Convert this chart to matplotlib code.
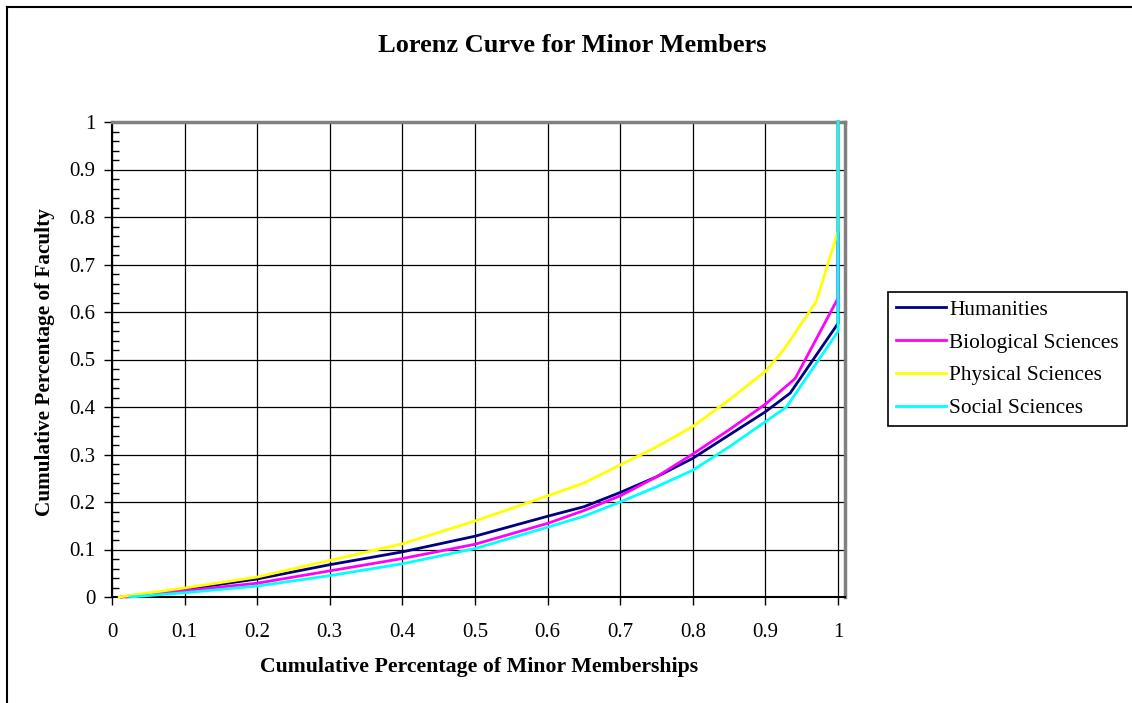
import matplotlib
matplotlib.use("Agg")
from matplotlib import pyplot as plt
from matplotlib.lines import Line2D
from matplotlib.ticker import MultipleLocator

# Dados (x = % acumulada de memberships, y = % acumulada de faculty)
hum_x = [0.013, 0.1, 0.2, 0.3, 0.4, 0.5, 0.6, 0.65, 0.7, 0.75, 0.8, 0.85, 0.9, 0.934, 1.0, 1.0]
hum_y = [0.0, 0.016, 0.038, 0.068, 0.095, 0.128, 0.170, 0.190, 0.220, 0.253, 0.292, 0.341, 0.390, 0.429, 0.576, 1.0]

bio_x = [0.02, 0.1, 0.2, 0.3, 0.4, 0.5, 0.6, 0.65, 0.7, 0.75, 0.8, 0.85, 0.9, 0.941, 1.0, 1.0]
bio_y = [0.0, 0.013, 0.029, 0.055, 0.081, 0.111, 0.155, 0.182, 0.213, 0.253, 0.301, 0.352, 0.406, 0.460, 0.629, 1.0]

phy_x = [0.01, 0.1, 0.2, 0.3, 0.4, 0.5, 0.6, 0.65, 0.7, 0.75, 0.8, 0.85, 0.9, 0.925, 0.97, 1.0, 1.0]
phy_y = [0.0, 0.019, 0.042, 0.077, 0.112, 0.160, 0.213, 0.240, 0.278, 0.316, 0.359, 0.415, 0.475, 0.520, 0.622, 0.770, 1.0]

soc_x = [0.025, 0.1, 0.2, 0.3, 0.4, 0.5, 0.6, 0.65, 0.7, 0.75, 0.8, 0.85, 0.9, 0.929, 1.0, 1.0]
soc_y = [0.0, 0.009, 0.023, 0.045, 0.070, 0.102, 0.147, 0.170, 0.200, 0.232, 0.267, 0.316, 0.369, 0.400, 0.559, 1.0]

series = ["Humanities", "Biological Sciences", "Physical Sciences", "Social Sciences"]
cores = ["#000080", "#FF00FF", "#FFFF00", "#00FFFF"]
ticks = ["0", "0.1", "0.2", "0.3", "0.4", "0.5", "0.6", "0.7", "0.8", "0.9", "1"]

plt.rcParams["font.family"] = ["Liberation Serif", "DejaVu Serif"]

fig = plt.figure(figsize=(11.32, 7.03), dpi=100)
W, H = 1132, 703
ax = fig.add_axes([112 / W, 1 - 597 / H, (845 - 112) / W, (597 - 122) / H])

dados = [(hum_x, hum_y), (bio_x, bio_y), (phy_x, phy_y), (soc_x, soc_y)]
for (xs, ys), nome, cor in zip(dados, series, cores):
    ax.plot(xs, ys, color=cor, lw=2.0, label=nome, clip_on=False, zorder=3)

ax.set_xlim(0, 1.0096)
ax.set_ylim(0, 1)
ax.set_xticks([i / 10 for i in range(11)])
ax.set_xticklabels(ticks)
ax.set_yticks([i / 10 for i in range(11)])
ax.set_yticklabels(ticks)
ax.yaxis.set_minor_locator(MultipleLocator(0.02))
ax.tick_params(axis="both", which="major", direction="out", length=6, width=1,
               labelsize=15, color="black")
ax.tick_params(axis="x", pad=13)
ax.tick_params(axis="y", pad=6)
ax.tick_params(axis="y", which="minor", direction="in", length=5, width=1)
ax.grid(True, which="major", color="black", lw=0.9)
ax.set_axisbelow(True)

ax.spines["left"].set_color("black")
ax.spines["bottom"].set_color("black")
ax.spines["left"].set_linewidth(1.5)
ax.spines["bottom"].set_linewidth(1.5)
for s in ["top", "right"]:
    ax.spines[s].set_color("#808080")
    ax.spines[s].set_linewidth(2.5)

fig.text(572 / W, 1 - 45 / H, "Lorenz Curve for Minor Members", ha="center", va="center",
         fontsize=19, fontweight="bold")
fig.text(479 / W, 1 - 667 / H, "Cumulative Percentage of Minor Memberships", ha="center",
         va="center", fontsize=15.7, fontweight="bold")
fig.text(45 / W, 1 - 362 / H, "Cumulative Percentage of Faculty", ha="center", va="center",
         rotation=90, fontsize=15.3, fontweight="bold")

leg = fig.legend(loc="upper left", bbox_to_anchor=(888 / W, 1 - 292 / H), borderaxespad=0,
                 fancybox=False, edgecolor="black", fontsize=15.4, handlelength=2.35,
                 handletextpad=0.15, borderpad=0.37, labelspacing=0.6, framealpha=1)
leg.get_frame().set_linewidth(1.2)

# borda externa do gráfico
fig.add_artist(Line2D([7 / W, 7 / W], [0, 1 - 7 / H], color="black", lw=1.5))
fig.add_artist(Line2D([7 / W, 1], [1 - 7 / H, 1 - 7 / H], color="black", lw=1.5))

plt.savefig("out.png", dpi=100)
